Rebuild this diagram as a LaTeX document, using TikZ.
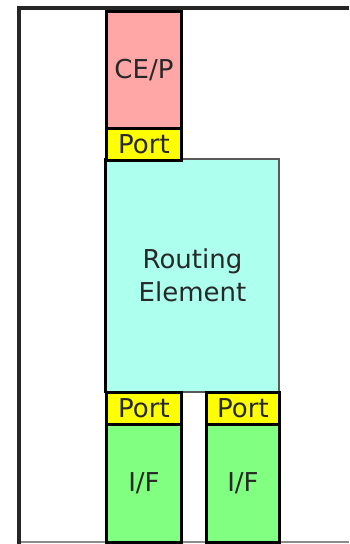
\documentclass[tikz,border=0pt]{standalone}
\usepackage{fontspec}
\setmainfont{DejaVu Sans}
\usetikzlibrary{positioning}
\definecolor{cepink}{RGB}{255,166,166}
\definecolor{portyellow}{RGB}{255,255,0}
\definecolor{recyan}{RGB}{173,255,238}
\definecolor{ifgreen}{RGB}{128,255,128}
\definecolor{txtdark}{RGB}{40,40,40}
\tikzset{
  unit/.style={rectangle, draw=black, line width=3pt, anchor=north west, inner sep=0pt, text=txtdark, font=\fontsize{26}{33}\selectfont, align=center},
  cebox/.style={unit, fill=cepink, minimum width=75pt, minimum height=117pt},
  portbox/.style={unit, fill=portyellow, minimum width=#1, minimum height=32pt},
  portbox/.default=75pt,
  ifbox/.style={unit, fill=ifgreen, minimum width=#1, minimum height=118pt},
  ifbox/.default=75pt,
  rebox/.style={unit, draw=black!65, line width=2pt, fill=recyan, minimum width=173pt, minimum height=233pt},
  frame/.style={line width=4pt, draw=black!85},
}
\begin{document}
\begin{tikzpicture}[x=1pt, y=-1pt]
  \useasboundingbox (0,0) rectangle (349,544);
  % outer frame
  \coordinate (ftl) at (19,8);
  \coordinate (ftr) at (349,8);
  \coordinate (fbl) at (19,544);
  \coordinate (bl) at (17,542);
  \coordinate (br) at (349,542);
  \draw[frame, line width=1.5pt, draw=black!45] (bl) -- (br);
  \draw[frame] (fbl) -- (ftl) -- (ftr);
  % routing element
  \node[rebox] (re) at (105,158) {Routing\\Element};
  \draw[line width=3pt] (re.north west) -- (re.south west);
  % control element with its port
  \node[cebox] (cep) at (105,10) {CE/P};
  \node[portbox] (portce) at (105,127) {Port};
  % interfaces with their ports
  \node[portbox] (portl) at (105,391) {Port};
  \node[ifbox] (ifl) at (105,423) {I/F};
  \node[portbox=73pt] (portr) at (205,391) {Port};
  \node[ifbox=73pt] (ifr) at (205,423) {I/F};
\end{tikzpicture}
\end{document}
